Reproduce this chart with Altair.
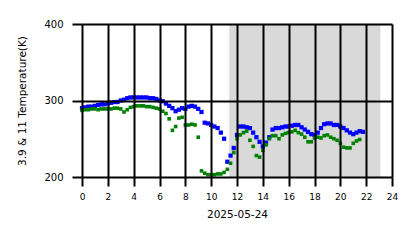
import altair as alt
import pandas as pd

blue_hours = [i * 0.25 for i in range(88)]
blue_vals = [290, 291, 292, 292, 293, 294, 295, 295, 296, 297, 298, 298,
             300, 301, 303, 304, 304, 304, 304, 304, 304, 303, 303, 302,
             300, 299, 296, 293, 290, 286, 288, 290, 289, 292, 293, 292,
             289, 285, 271, 270, 268, 266, 264, 258, 250, 220, 228, 238,
             255, 266, 266, 265, 264, 258, 252, 246, 240, 245, 252, 262,
             264, 264, 265, 266, 266, 267, 268, 268, 265, 262, 259, 256,
             255, 258, 264, 269, 270, 270, 268, 268, 266, 264, 261, 258,
             256, 258, 260, 259]

green_hours = [i * 0.25 for i in range(87)]
green_vals = [287, 288, 288, 289, 289, 288, 289, 289, 289, 289, 290, 290,
              289, 285, 288, 291, 292, 293, 293, 293, 292, 292, 291, 290,
              289, 286, 283, 276, 261, 266, 277, 278, 268, 268, 269, 268,
              252, 208, 205, 203, 203, 203, 204, 204, 206, 210, 218, 232,
              250, 255, 258, 260, 248, 240, 228, 226, 235, 242, 250, 254,
              254, 250, 255, 257, 258, 259, 261, 258, 256, 252, 246, 246,
              251, 252, 251, 254, 255, 252, 250, 248, 244, 239, 238, 238,
              244, 247, 249]

x_ticks = [0, 2, 4, 6, 8, 10, 12, 14, 16, 18, 20, 22, 24]
y_ticks = [200, 300, 400]

shade_start = [11.4]
shade_end = [23.1]

blue_df = pd.DataFrame({"hour": blue_hours, "temp": blue_vals})
green_df = pd.DataFrame({"hour": green_hours, "temp": green_vals})
shade_df = pd.DataFrame({"hour": shade_start, "hour_end": shade_end,
                         "temp": [200], "temp_end": [400]})

xscale = alt.Scale(domain=[0, 24], nice=False, zero=False)
yscale = alt.Scale(domain=[200, 400], nice=False, zero=False)

xaxis = alt.Axis(values=x_ticks, grid=True, gridColor="black",
                 gridWidth=2, gridOpacity=1, tickColor="black", tickWidth=2,
                 tickSize=9, domain=False, labelFontSize=9, labelPadding=6,
                 labelFont="DejaVu Sans", labelColor="black", labelOverlap=False,
                 title="2025-05-24",
                 titleFont="DejaVu Sans", titleFontSize=10.5, titleFontWeight="normal",
                 titleColor="black", titlePadding=8, zindex=1, labelFlush=False)
yaxis = alt.Axis(values=y_ticks, grid=True, gridColor="black",
                 gridWidth=2, gridOpacity=1, tickColor="black", tickWidth=2,
                 tickSize=10, domain=False, labelFontSize=10, labelPadding=9,
                 labelFont="DejaVu Sans", labelColor="black", labelOverlap=False,
                 title="3.9 & 11 Temperature(K)", titleFont="DejaVu Sans",
                 titleFontSize=10.5, titleFontWeight="normal", titleColor="black",
                 titlePadding=16, zindex=1, labelFlush=False)

X = alt.X("hour:Q", scale=xscale, axis=xaxis, title="2025-05-24")
Y = alt.Y("temp:Q", scale=yscale, axis=yaxis, title="3.9 & 11 Temperature(K)")

shade = alt.Chart(shade_df).mark_rect(color="#d9d9d9").encode(
    x=X, x2="hour_end:Q", y=Y, y2="temp_end:Q",
)

green = alt.Chart(green_df).mark_square(size=13, color="#008000", opacity=1).encode(
    x=X, y=Y,
)

blue = alt.Chart(blue_df).mark_square(size=18, color="#0000ff", opacity=1).encode(
    x=X, y=Y,
)

chart = alt.layer(shade, blue, green).properties(
    width=310, height=153,
    autosize=alt.AutoSizeParams(type="none"),
    padding={"left": 82, "top": 24, "right": 26, "bottom": 71},
).configure_view(stroke=None)

chart.save("out.html", embed_options={"renderer": "svg", "actions": False})
